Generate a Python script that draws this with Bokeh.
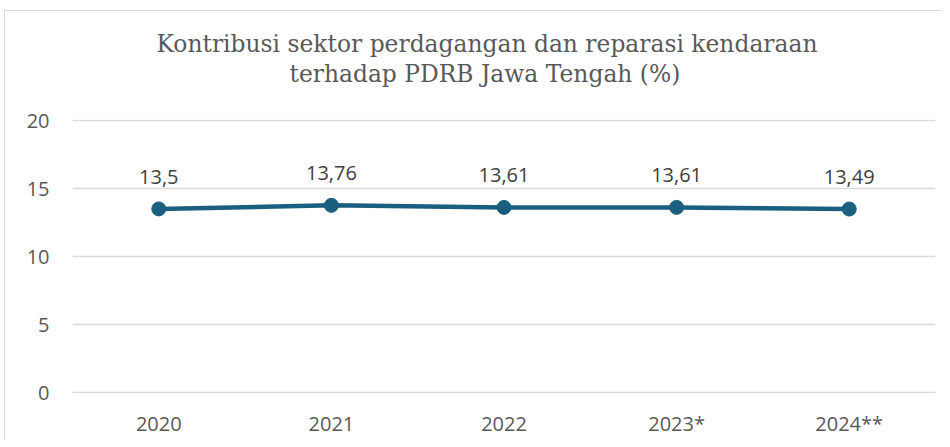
from bokeh.plotting import figure
from bokeh.models import Range1d, Title, FixedTicker, ColumnDataSource
from bokeh.core.properties import value
from bokeh.embed import file_html
from bokeh.resources import INLINE

years = ["2020", "2021", "2022", "2023*", "2024**"]
shares = [13.5, 13.76, 13.61, 13.61, 13.49]
share_labels = ["13,5", "13,76", "13,61", "13,61", "13,49"]
y_ticks = [0, 5, 10, 15, 20]
title_lines = ["Kontribusi sektor perdagangan  dan reparasi kendaraan",
               "terhadap PDRB Jawa Tengah (%)"]

LINE = "#1a5f80"
TXT = "#595959"
BORDER = "#d9d9d9"

src = ColumnDataSource(dict(x=years, y=shares, lab=share_labels))

bg = (f"linear-gradient({BORDER},{BORDER}) 4px 10px / 1px 100% no-repeat, "
      f"linear-gradient({BORDER},{BORDER}) 4px 10px / 100% 1px no-repeat, white")

pad = 1 / 13.6  # one pixel in data units, so the top grid line is not clipped
p = figure(x_range=years, y_range=Range1d(0 - pad, 20 + pad), width=942, height=439,
           output_backend="svg", toolbar_location=None,
           min_border_left=72, min_border_right=7, min_border_top=119, min_border_bottom=46,
           styles={"background": bg})
p.border_fill_color = None
p.background_fill_color = "white"
p.outline_line_color = None
p.xgrid.grid_line_color = None
p.ygrid.grid_line_color = BORDER
p.ygrid.grid_line_width = 1.5
p.yaxis.ticker = FixedTicker(ticks=y_ticks)

for ax in (p.xaxis, p.yaxis):
    ax.axis_line_color = None
    ax.major_tick_line_color = None
    ax.minor_tick_line_color = None
    ax.major_label_text_font = "Open Sans"
    ax.major_label_text_font_size = "20px"
    ax.major_label_text_color = TXT
p.yaxis.major_label_standoff = 17
p.xaxis.major_label_standoff = 10

p.line("x", "y", source=src, line_color=LINE, line_width=4.5)
p.scatter("x", "y", source=src, size=14, fill_color=LINE, line_color=LINE)
p.text("x", "y", text="lab", source=src, text_align="center", text_baseline="middle",
       y_offset=-32, text_font=value("Open Sans"), text_font_size="20px", text_color="#404040")

# spacer between title and plot area
p.add_layout(Title(text=" ", text_font_size="20px", standoff=8), "above")
p.add_layout(Title(text=title_lines[1], align="left", offset=217, standoff=0,
                   text_font="DejaVu Serif", text_font_size="23.4px",
                   text_font_style="normal", text_color=TXT), "above")
p.add_layout(Title(text=title_lines[0], align="left", offset=84, standoff=0,
                   text_font="DejaVu Serif", text_font_size="23.4px",
                   text_font_style="normal", text_color=TXT), "above")

open("out.html", "w").write(file_html(p, INLINE))
